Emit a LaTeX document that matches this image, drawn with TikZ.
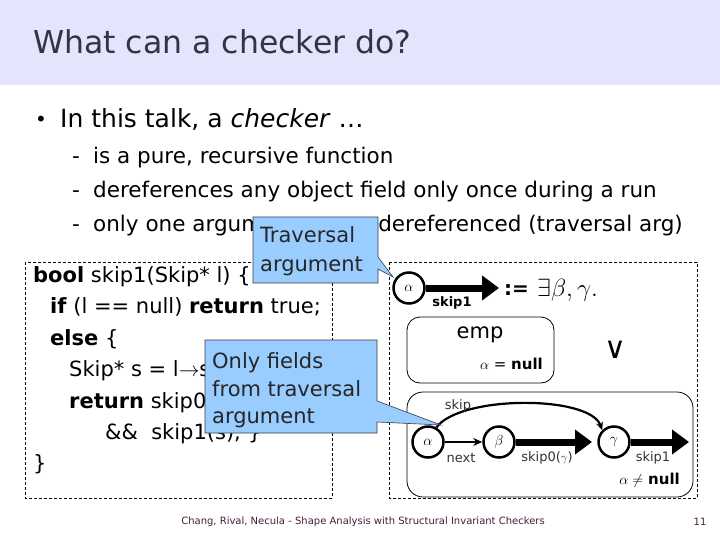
\documentclass[tikz,border=0pt]{standalone}
\usepackage{fontspec}
\setmainfont{DejaVu Sans}
\usetikzlibrary{arrows.meta}
\definecolor{band}{RGB}{228,228,252}
\definecolor{titlec}{RGB}{51,51,68}
\definecolor{callfill}{RGB}{153,204,255}
\definecolor{callline}{RGB}{60,60,70}
\definecolor{footc}{RGB}{70,30,60}
\newcommand{\fs}[1]{\fontsize{#1}{#1}\selectfont}
\begin{document}
\begin{tikzpicture}[x=1pt,y=-1pt,
  txt/.style={anchor=base west,inner sep=0pt},
  code/.style={anchor=base west,inner sep=0pt,font=\fs{21}},
  sub/.style={anchor=base west,inner sep=0pt,font=\fs{21.5}},
  callout/.style={fill=callfill,draw=callline,line width=0.6pt},
  calltext/.style={anchor=base west,inner sep=0pt,font=\fs{21},text=black!85},
  dbox/.style={draw,dash pattern=on 3pt off 2pt,line width=0.7pt},
  rbox/.style={draw,line width=0.8pt},
  loc/.style={circle,draw,line width=2.5pt,fill=white,minimum size=31pt,inner sep=0pt,font=\fs{15}},
  thick arr/.style={line width=7pt,-{Triangle[length=17pt,width=24pt]}},
  lab/.style={inner sep=0pt,font=\fs{13}\color{black!80}}]
\useasboundingbox (0,0) rectangle (720,540);
\fill[white] (0,0) rectangle (720,540);
\fill[band] (0,0) rectangle (720,85);
\node[txt,text=titlec,font=\fs{31.5}] (title) at (33,54) {What can a checker do?};

% bullets
\node[txt,font=\fs{20}] (bul) at (35,127) {•};
\node[txt,font=\fs{25}] (l0) at (60,128) {In this talk, a \textit{checker} …};
\node[sub] (d1) at (72,164) {-};
\node[sub] (l1) at (93,164) {is a pure, recursive function};
\node[sub] (d2) at (72,198) {-};
\node[sub] (l2) at (93,198) {dereferences any object field only once during a run};
\node[sub] (d3) at (72,232) {-};
\node[sub] (l3a) at (93,232) {only one argum};
\node[sub,anchor=base east] (l3b) at (683,232) {dereferenced (traversal arg)};

% dashed panels
\draw[dbox] (25,262) rectangle (332,498);
\draw[dbox] (389,262) rectangle (697,498);

% code
\node[code] (c1) at (33,282) {\textbf{bool} skip1(Skip* l) \{};
\node[code] (c2) at (50,313) {\textbf{if} (l == null) \textbf{return} true;};
\node[code] (c3) at (50,345) {\textbf{else} \{};
\node[code] (c4) at (69,376) {Skip* s = l$\rightarrow$s};
\node[code] (c5) at (69,408) {\textbf{return} skip0};
\node[code] (c6) at (105,439) {\&\&\ \ skip1(s); \}};
\node[code] (c7) at (33,470) {\}};

% right panel: definition head
\node[loc] (a1) at (409,288) {$\alpha$};
\coordinate (a1e) at (499,288);
\draw[thick arr] (a1) -- (a1e);
\node[inner sep=0pt,font=\fs{13}\bfseries] (s1) at (452,303) {skip1};
\node[txt,font=\fs{20}\bfseries] (def) at (504,295) {:=};
\node[txt,font=\fs{23}] (ex) at (537,296) {$\exists\beta,\gamma.$};

% emp case
\draw[rbox,rounded corners=13pt] (407,317) rectangle (554,383);
\node[inner sep=0pt,font=\fs{21}] (emp) at (480,335) {emp};
\node[anchor=base east,inner sep=0pt,font=\fs{15}] (an) at (543,369) {$\alpha$ = \textbf{null}};
\node[inner sep=0pt,font=\fs{30}] (or) at (615,350) {∨};

% non-empty case
\draw[rbox,rounded corners=16pt] (407,392) rectangle (693,497);
\node[loc] (a2) at (428,442) {$\alpha$};
\node[loc] (b2) at (499,442) {$\beta$};
\node[loc] (g2) at (614,442) {$\gamma$};
\coordinate (b2e) at (592,442);
\coordinate (g2e) at (689,442);
\draw[line width=1.8pt,-{Stealth[length=9pt,width=8pt]}] (a2) -- (b2);
\draw[thick arr] (b2) -- (b2e);
\draw[thick arr] (g2) -- (g2e);
\draw[line width=2.2pt,-{Stealth[length=8pt,width=7pt]}] (a2.60) .. controls (460,395) and (590,395) .. (g2.north west);
\node[lab] (nx) at (461,458) {next};
\node[lab] (sk0) at (547,458) {skip0($\gamma$)};
\node[lab] (sk1) at (653,458) {skip1};
\node[lab] (skp) at (458,406) {skip};
\node[anchor=base east,inner sep=0pt,font=\fs{15}] (ann) at (680,484) {$\alpha\neq$ \textbf{null}};

% callout 1
\draw[callout] (253,217) -- (378,217) -- (378,257) -- (393,277) -- (378,269) -- (378,283) -- (253,283) -- cycle;
\node[calltext] (ct1) at (260,243) {Traversal};
\node[calltext] (ct2) at (260,271) {argument};
% callout 2
\draw[callout] (205,340) -- (377,340) -- (377,401) -- (441,425) -- (377,422) -- (377,433) -- (205,433) -- cycle;
\node[calltext] (cu1) at (212,368) {Only fields};
\node[calltext] (cu2) at (212,396) {from traversal};
\node[calltext] (cu3) at (212,423) {argument};

% footer
\node[inner sep=0pt,font=\fs{10},text=footc] (foot) at (363,522) {Chang, Rival, Necula - Shape Analysis with Structural Invariant Checkers};
\node[inner sep=0pt,font=\fs{10},text=footc] (pg) at (700,522) {11};
\end{tikzpicture}
\end{document}
